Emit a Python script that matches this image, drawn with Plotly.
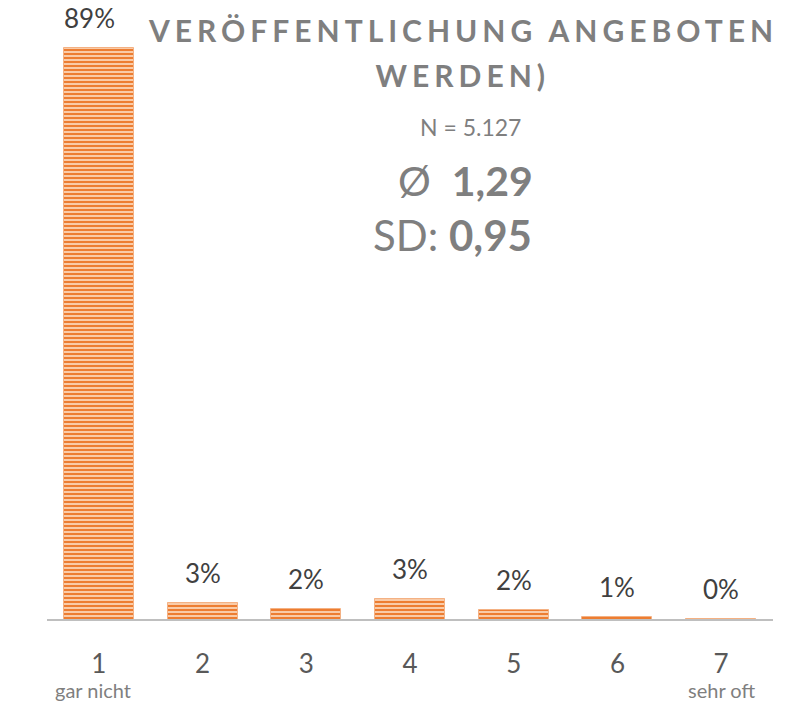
import plotly.graph_objects as go

# Response scale 1..7 and share of respondents (in %)
categories = [1, 2, 3, 4, 5, 6, 7]
tick_labels = ["1", "2", "3", "4", "5", "6", "7"]
shares = [89.2, 2.8, 1.8, 3.4, 1.7, 0.6, 0.3]

title_lines = ["VERÖFFENTLICHUNG ANGEBOTEN", "WERDEN)"]
n_text = "N = 5.127"
mean_text = "Ø  <b>1,29</b>"
sd_text = "SD: <b>0,95</b>"
scale_low = "gar nicht"
scale_high = "sehr oft"

FONT = "Lato"
ORANGE = "#ED7D31"
ORANGE_LIGHT = "#F9CBA8"
GREY_TXT = "#7F7F7F"

fig = go.Figure()

fig.add_trace(go.Bar(
    x=categories,
    y=shares,
    width=0.675,
    marker=dict(
        color=ORANGE,
        line=dict(color="#F4B183", width=1),
        pattern=dict(shape="-", size=4, solidity=0.5,
                     fgcolor=ORANGE, bgcolor=ORANGE_LIGHT, fillmode="replace"),
    ),
    hoverinfo="skip",
))

# value labels above each bar; the tallest one is nudged left, away from the heading
for i, (c, v) in enumerate(zip(categories, shares)):
    fig.add_annotation(
        x=c, y=v, xref="x", yref="y",
        text=f"{v:.0f}%", showarrow=False,
        yanchor="middle", yshift=30, xshift=-9 if i == 0 else 0,
        font=dict(family=FONT, size=26, color="#404040"),
    )

# baseline drawn over the bar feet
fig.add_shape(type="line", xref="paper", yref="y", x0=0, x1=1, y0=0, y1=0,
              line=dict(color="#BFBFBF", width=4), layer="above")

# heading and statistics
fig.add_annotation(xref="paper", yref="paper", x=0.573, y=0.9517,
                   text=f"<b>{title_lines[0]}</b>", showarrow=False,
                   xanchor="center", yanchor="middle",
                   font=dict(family=FONT, size=30, color=GREY_TXT))
fig.add_annotation(xref="paper", yref="paper", x=0.573, y=0.879,
                   text=f"<b>{title_lines[1]}</b>", showarrow=False,
                   xanchor="center", yanchor="middle",
                   font=dict(family=FONT, size=30, color=GREY_TXT))
fig.add_annotation(xref="paper", yref="paper", x=0.583, y=0.7955,
                   text=n_text, showarrow=False,
                   xanchor="center", yanchor="middle",
                   font=dict(family=FONT, size=23, color=GREY_TXT))
fig.add_annotation(xref="paper", yref="paper", x=0.576, y=0.710,
                   text=mean_text, showarrow=False,
                   xanchor="center", yanchor="middle",
                   font=dict(family=FONT, size=41, color=GREY_TXT))
fig.add_annotation(xref="paper", yref="paper", x=0.558, y=0.6216,
                   text=sd_text, showarrow=False,
                   xanchor="center", yanchor="middle",
                   font=dict(family=FONT, size=42, color=GREY_TXT))

# scale end descriptions
fig.add_annotation(xref="x", yref="paper", x=categories[0], y=-0.1107,
                   xshift=-6, text=scale_low, showarrow=False,
                   xanchor="center", yanchor="middle",
                   font=dict(family=FONT, size=20, color=GREY_TXT))
fig.add_annotation(xref="x", yref="paper", x=categories[-1], y=-0.1107,
                   text=scale_high, showarrow=False,
                   xanchor="center", yanchor="middle",
                   font=dict(family=FONT, size=20, color=GREY_TXT))

fig.update_layout(
    width=786, height=706,
    margin=dict(l=47, r=13, t=0, b=85),
    paper_bgcolor="white", plot_bgcolor="white",
    showlegend=False,
    bargap=0,
    xaxis=dict(
        range=[0.5, 7.5], tickmode="array",
        tickvals=categories, ticktext=tick_labels,
        showline=False, showgrid=False, zeroline=False,
        ticks="", ticklabelstandoff=25,
        tickfont=dict(family=FONT, size=26, color="#595959"),
        fixedrange=True,
    ),
    yaxis=dict(
        range=[0, 96.7], visible=False, showgrid=False, zeroline=False,
        fixedrange=True,
    ),
)

post_script = """
document.querySelectorAll('g.annotation text').forEach(function (t) {
  var s = t.textContent;
  if (s.indexOf('VER') === 0 || s.indexOf('WERDEN') === 0) {
    t.style.letterSpacing = '5px';
  }
});
"""

fig.write_html("out.html", post_script=post_script, config={"displayModeBar": False})
